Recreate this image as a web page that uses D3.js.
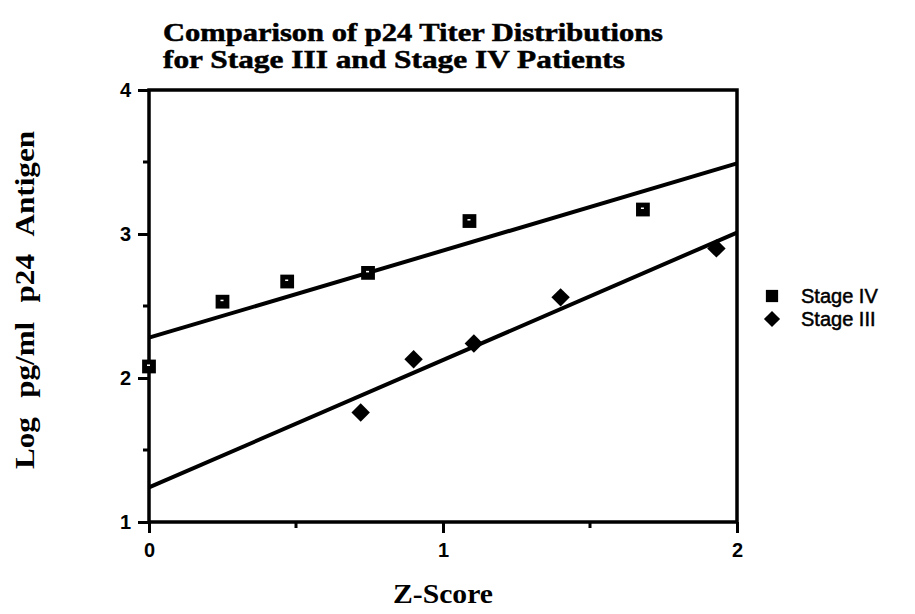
<!DOCTYPE html>
<html>
<head>
<meta charset="utf-8">
<script src="https://cdn.jsdelivr.net/npm/d3@7"></script>
<style>
  html, body { margin: 0; padding: 0; background: #fff; }
  svg { display: block; }
</style>
</head>
<body>
<svg id="chart" width="915" height="614"></svg>
<script>
// Observations: normal score (Z) vs log10 p24 antigen (pg/ml)
const stageIVZ = [0.0, 0.25, 0.47, 0.745, 1.09, 1.68];
const stageIVLog = [2.08, 2.53, 2.67, 2.73, 3.09, 3.17];
const stageIIIZ = [0.72, 0.90, 1.105, 1.40, 1.93];
const stageIIILog = [1.76, 2.13, 2.24, 2.56, 2.90];

// Fitted lines, value at Z = 0 and Z = 2
const fitZ = [0, 2];
const stageIVFit = [2.28, 3.49];
const stageIIIFit = [1.24, 3.01];

const xTicks = [0, 1, 2];
const xMinorTicks = [0.5, 1.5];
const yTicks = [1, 2, 3, 4];
const yMinorTicks = [1.5, 2.5, 3.5];

const seriesNames = ["Stage IV", "Stage III"];
const titleLines = ["Comparison of p24 Titer Distributions", "for Stage III and Stage IV Patients"];

const svg = d3.select("#chart");
const x = d3.scaleLinear().domain([0, 2]).range([149, 737]);
const y = d3.scaleLinear().domain([1, 4]).range([522, 90]);

const serif = "'Liberation Serif', 'Times New Roman', serif";
const sans = "'Liberation Sans', Arial, Helvetica, sans-serif";

// Title: two lines
const titleLen = [500, 462];
svg.append("g").selectAll("text").data(titleLines).join("text")
  .attr("x", 163).attr("y", (d, i) => 41 + i * 27)
  .attr("font-family", serif).attr("font-weight", "bold")
  .attr("font-size", 24.5).attr("fill", "#000")
  .attr("stroke", "#000").attr("stroke-width", 0.5)
  .attr("textLength", (d, i) => titleLen[i]).attr("lengthAdjust", "spacingAndGlyphs")
  .text(d => d);

// Frame
svg.append("rect")
  .attr("x", x(0)).attr("y", y(4))
  .attr("width", x(2) - x(0)).attr("height", y(1) - y(4))
  .attr("fill", "none").attr("stroke", "#000").attr("stroke-width", 3.5);

// Y axis (ticks pointing left)
const yAxis = d3.axisLeft(y).tickValues(yTicks).tickSize(11).tickPadding(7)
  .tickFormat(d3.format("d"));
const gy = svg.append("g").attr("transform", `translate(${x(0)},0)`).call(yAxis);
gy.select(".domain").remove();
gy.selectAll(".tick line").attr("stroke", "#000").attr("stroke-width", 3);
gy.selectAll(".tick text").attr("font-family", sans).attr("font-weight", "bold")
  .attr("font-size", 20).attr("fill", "#000");
svg.append("g").selectAll("line").data(yMinorTicks).join("line")
  .attr("x1", x(0) - 6).attr("x2", x(0))
  .attr("y1", d => y(d)).attr("y2", d => y(d))
  .attr("stroke", "#000").attr("stroke-width", 3);

// X axis (ticks pointing down)
const xAxis = d3.axisBottom(x).tickValues(xTicks).tickSize(11).tickPadding(10)
  .tickFormat(d3.format("d"));
const gx = svg.append("g").attr("transform", `translate(0,${y(1)})`).call(xAxis);
gx.select(".domain").remove();
gx.selectAll(".tick line").attr("stroke", "#000").attr("stroke-width", 3);
gx.selectAll(".tick text").attr("font-family", sans).attr("font-weight", "bold")
  .attr("font-size", 20).attr("fill", "#000");
svg.append("g").selectAll("line").data(xMinorTicks).join("line")
  .attr("x1", d => x(d)).attr("x2", d => x(d))
  .attr("y1", y(1)).attr("y2", y(1) + 6)
  .attr("stroke", "#000").attr("stroke-width", 3);

// Axis titles
svg.append("text")
  .attr("transform", "translate(34,300) rotate(-90)")
  .attr("text-anchor", "middle")
  .attr("font-family", serif).attr("font-weight", "bold")
  .attr("font-size", 27).attr("word-spacing", 10).attr("fill", "#000")
  .attr("textLength", 338).attr("lengthAdjust", "spacingAndGlyphs")
  .text("Log pg/ml p24 Antigen");

svg.append("text")
  .attr("x", x(1)).attr("y", 603)
  .attr("text-anchor", "middle")
  .attr("font-family", serif).attr("font-weight", "bold")
  .attr("font-size", 28).attr("fill", "#000")
  .attr("textLength", 100).attr("lengthAdjust", "spacingAndGlyphs")
  .text("Z-Score");

// Fitted lines
const line = d3.line().x(d => x(d[0])).y(d => y(d[1]));
const plot = svg.append("g");
plot.append("path").datum(fitZ.map((z, i) => [z, stageIVFit[i]]))
  .attr("d", line).attr("fill", "none").attr("stroke", "#000").attr("stroke-width", 4);
plot.append("path").datum(fitZ.map((z, i) => [z, stageIIIFit[i]]))
  .attr("d", line).attr("fill", "none").attr("stroke", "#000").attr("stroke-width", 4);

// Markers
const squareSym = d3.symbol().type(d3.symbolSquare).size(190);
const diamondSym = d3.symbol().type(d3.symbolSquare).size(170);

const ivPts = stageIVZ.map((z, i) => [z, stageIVLog[i]]);
const iiiPts = stageIIIZ.map((z, i) => [z, stageIIILog[i]]);

plot.selectAll("path.sq").data(ivPts).join("path").attr("class", "sq")
  .attr("d", squareSym)
  .attr("transform", d => `translate(${x(d[0])},${y(d[1])})`)
  .attr("fill", "#000");
plot.selectAll("rect.sqdot").data(ivPts).join("rect").attr("class", "sqdot")
  .attr("x", d => x(d[0]) - 2).attr("y", d => y(d[1]) - 2)
  .attr("width", 3).attr("height", 1.5).attr("fill", "#fff");

plot.selectAll("path.dm").data(iiiPts).join("path").attr("class", "dm")
  .attr("d", diamondSym)
  .attr("transform", d => `translate(${x(d[0])},${y(d[1])}) rotate(45)`)
  .attr("fill", "#000");

// Legend
const legend = svg.append("g");
const legendY = [296, 319];
legend.append("path").attr("d", squareSym.size(150)())
  .attr("transform", `translate(772,${legendY[0]})`).attr("fill", "#000");
legend.append("path").attr("d", diamondSym.size(130)())
  .attr("transform", `translate(772,${legendY[1]}) rotate(45)`).attr("fill", "#000");
legend.selectAll("text").data(seriesNames).join("text")
  .attr("x", 801).attr("y", (d, i) => legendY[i] + 7)
  .attr("font-family", sans).attr("font-size", 20).attr("fill", "#000")
  .attr("stroke", "#000").attr("stroke-width", 0.5)
  .text(d => d);
</script>
</body>
</html>
